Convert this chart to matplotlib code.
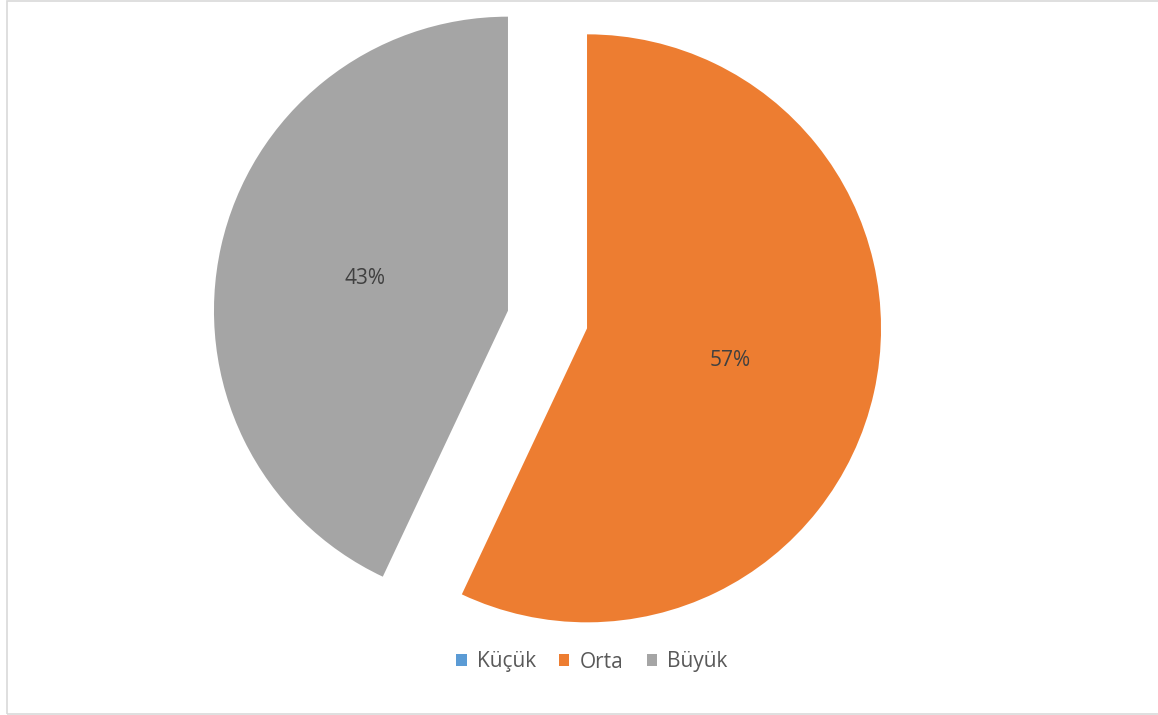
import matplotlib.pyplot as plt
from matplotlib.patches import Rectangle

# share of each size class
categories = ['Küçük', 'Orta', 'Büyük']
values = [0, 57, 43]
colors = ['#5b9bd5', '#ed7d31', '#a5a5a5']

W, H = 1158, 715
fig = plt.figure(figsize=(W / 100, H / 100), dpi=100)
ax = fig.add_axes([0, 0, 1, 1])

R = 294
# explode is in data units (pixels here), not radius fractions
wedges, texts, autotexts = ax.pie(
    values, colors=colors, startangle=90, counterclock=False,
    radius=R, center=(547.5, H - 319.5), explode=[40.5] * 3,
    autopct=lambda p: '%d%%' % round(p) if p > 0 else '', pctdistance=0.5,
    wedgeprops=dict(linewidth=0), textprops=dict(color='#404040', fontsize=15, family='Open Sans'))

ax.set_xlim(0, W)
ax.set_ylim(0, H)
ax.set_aspect('equal')
ax.axis('off')

ax.legend(wedges, categories, loc='center', bbox_to_anchor=(592 / W, 1 - 662 / H),
          ncol=3, frameon=False, prop=dict(family='Open Sans', size=15),
          labelcolor='#595959', handlelength=0.5, handleheight=0.5,
          handletextpad=0.5, columnspacing=1.1)

# outer chart border
fig.patches.append(Rectangle((6.5 / W, 1 / H), 1.2, 1 - 2 / H, transform=fig.transFigure,
                             fill=False, edgecolor='#d9d9d9', linewidth=1.2))

fig.savefig('out.png', dpi=100)
